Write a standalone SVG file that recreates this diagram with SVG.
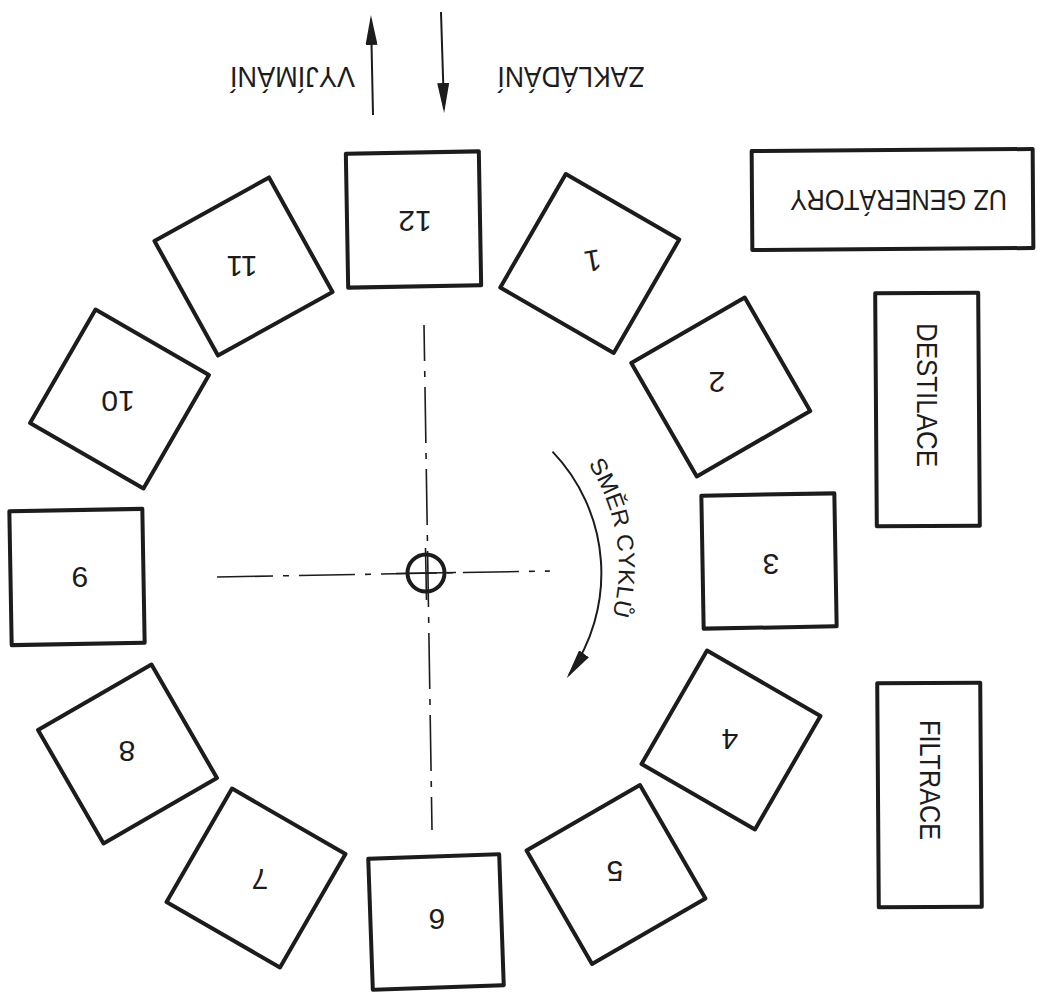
<svg xmlns="http://www.w3.org/2000/svg" width="1061" height="993" viewBox="0 0 1061 993">
<defs>
<style>
.box{fill:#fff;stroke:#1c1c1c;stroke-width:4;stroke-linejoin:round}
.num{font-family:"Liberation Sans","DejaVu Sans",sans-serif;font-size:30px;fill:#1c1c1c;text-anchor:middle}
.lbl{font-family:"Liberation Sans","DejaVu Sans",sans-serif;font-size:30px;fill:#1c1c1c;text-anchor:middle}
.axis{stroke:#1c1c1c;stroke-width:1.6;fill:none;stroke-dasharray:56 10 6 10}
.arr{stroke:#1c1c1c;stroke-width:2;fill:none}
</style>
<marker id="head" viewBox="0 0 30 12" refX="26" refY="6" markerWidth="30" markerHeight="12" markerUnits="userSpaceOnUse" orient="auto">
<path d="M0,0 L30,6 L0,12 Z" fill="#1c1c1c"/>
</marker>
</defs>
<rect width="1061" height="993" fill="#fff"/>

<g id="connectors">
<line class="arr" x1="373" y1="115" x2="371" y2="19" marker-end="url(#head)"/>
<line class="arr" x1="441" y1="12" x2="444" y2="109" marker-end="url(#head)"/>
<path class="arr" d="M552.5,451.6 A176,176 0 0 1 569,675" marker-end="url(#head)"/>
<path id="arcText" d="M588,464 A187,187 0 0 1 611,620" fill="none"/>
<text font-family="'Liberation Sans','DejaVu Sans',sans-serif" font-size="23" fill="#1c1c1c"><textPath href="#arcText" textLength="158" lengthAdjust="spacingAndGlyphs">SMĚR CYKLŮ</textPath></text>
</g>

<g id="center">
<line class="axis" x1="217" y1="577" x2="550" y2="571"/>
<line class="axis" x1="424" y1="325" x2="432" y2="830" stroke-dashoffset="20"/>
<line x1="396" y1="573.5" x2="456" y2="572.5" stroke="#1c1c1c" stroke-width="1.6"/>
<line x1="425.5" y1="548" x2="426.5" y2="600" stroke="#1c1c1c" stroke-width="1.6"/>
<circle cx="426" cy="573" r="18.5" fill="none" stroke="#1c1c1c" stroke-width="4"/>
</g>

<g id="labels">
<text class="lbl" transform="translate(571,67) rotate(180)" textLength="147" lengthAdjust="spacingAndGlyphs">ZAKLÁDÁNÍ</text>
<text class="lbl" transform="translate(292.5,67) rotate(180)" textLength="125" lengthAdjust="spacingAndGlyphs">VYJÍMÁNÍ</text>
</g>

<g id="uz-generatory">
<rect class="box" x="752" y="150" width="281" height="99" transform="rotate(-0.4 892 199)"/>
<text class="lbl" transform="translate(898.5,190) rotate(180)" textLength="217" lengthAdjust="spacingAndGlyphs">UZ GENERÁTORY</text>
</g>
<g id="destilace">
<rect class="box" x="876" y="293" width="103" height="233" transform="rotate(-0.4 927 410)"/>
<text class="lbl" transform="translate(917,395) rotate(90)" textLength="144" lengthAdjust="spacingAndGlyphs">DESTILACE</text>
</g>
<g id="filtrace">
<rect class="box" x="878" y="683" width="103" height="224" transform="rotate(-0.4 930 795)"/>
<text class="lbl" transform="translate(920,780) rotate(90)" textLength="120" lengthAdjust="spacingAndGlyphs">FILTRACE</text>
</g>

<g id="box-12">
<rect class="box" x="-66.5" y="-67" width="133" height="134" transform="translate(413.5,219.5) rotate(-1)"/>
<text class="num" transform="translate(415,222) rotate(180)" y="10.7">12</text>
</g>
<g id="box-1">
<rect class="box" x="-65.5" y="-65.5" width="131" height="131" transform="translate(589.75,263.5) rotate(30)"/>
<text class="num" transform="translate(593,261) rotate(170)" y="10.7">1</text>
</g>
<g id="box-2">
<rect class="box" x="-65.5" y="-65.5" width="131" height="131" transform="translate(720.75,387) rotate(60)"/>
<text class="num" transform="translate(717,383) rotate(180)" y="10.7">2</text>
</g>
<g id="box-3">
<rect class="box" x="-66.5" y="-66.5" width="133" height="133" transform="translate(769,561) rotate(-1)"/>
<text class="num" transform="translate(771,565) rotate(180)" y="10.7">3</text>
</g>
<g id="box-4">
<rect class="box" x="-65.5" y="-65.5" width="131" height="131" transform="translate(731,740) rotate(30)"/>
<text class="num" transform="translate(730,740) rotate(180)" y="10.7">4</text>
</g>
<g id="box-5">
<rect class="box" x="-65.5" y="-65.5" width="131" height="131" transform="translate(616,874.5) rotate(60)"/>
<text class="num" transform="translate(615,872) rotate(180)" y="10.7">5</text>
</g>
<g id="box-6">
<rect class="box" x="-65.5" y="-65.5" width="131" height="131" transform="translate(436,922) rotate(-2)"/>
<text class="num" transform="translate(437,920) rotate(180)" y="10.7">6</text>
</g>
<g id="box-7">
<rect class="box" x="-65.5" y="-65.5" width="131" height="131" transform="translate(256,878) rotate(30)"/>
<text class="num" transform="translate(260,880) rotate(180)" y="10.7">7</text>
</g>
<g id="box-8">
<rect class="box" x="-65.5" y="-65.5" width="131" height="131" transform="translate(127.5,754) rotate(60)"/>
<text class="num" transform="translate(127,752) rotate(180)" y="10.7">8</text>
</g>
<g id="box-9">
<rect class="box" x="-66.5" y="-67" width="133" height="134" transform="translate(77,577) rotate(-1)"/>
<text class="num" transform="translate(80,578) rotate(180)" y="10.7">9</text>
</g>
<g id="box-10">
<rect class="box" x="-65.5" y="-65.5" width="131" height="131" transform="translate(119.5,399) rotate(30)"/>
<text class="num" transform="translate(118,402) rotate(180)" y="10.7">10</text>
</g>
<g id="box-11">
<rect class="box" x="-65.5" y="-65.5" width="131" height="131" transform="translate(243.5,266.5) rotate(61)"/>
<text class="num" transform="translate(242,267) rotate(180)" y="10.7">11</text>
</g>
</svg>
